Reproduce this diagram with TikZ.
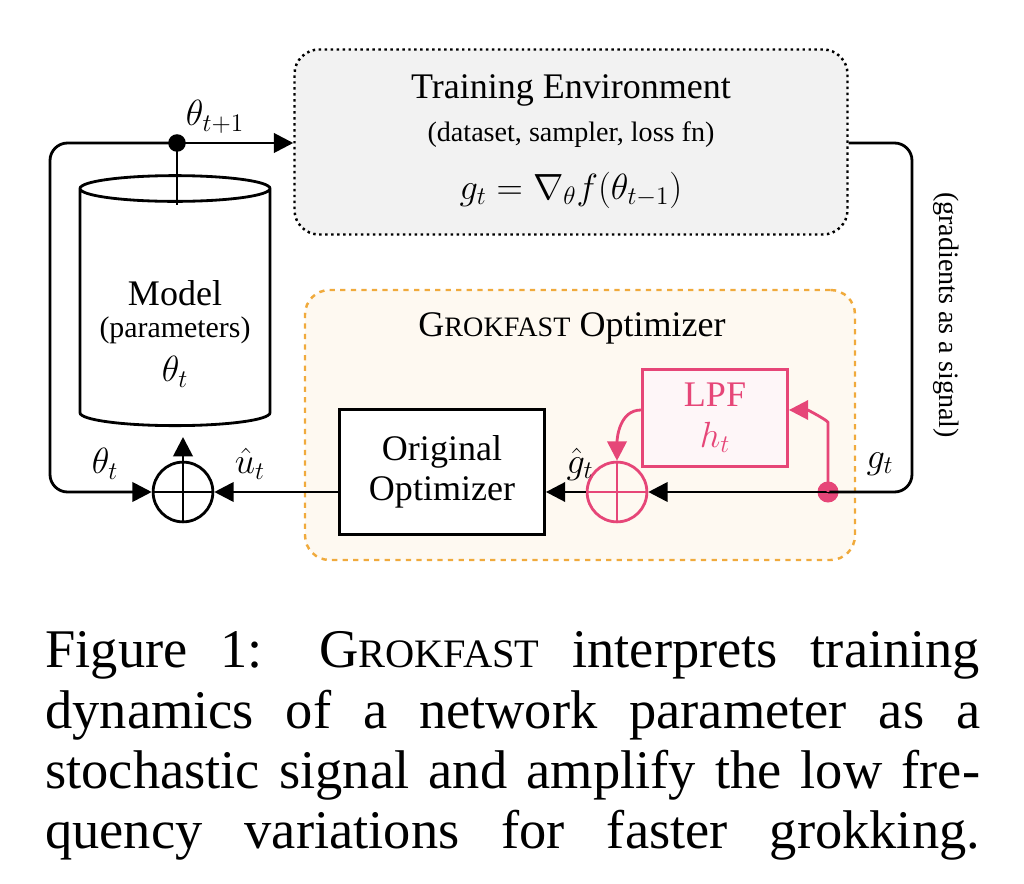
\documentclass[tikz,border=0pt]{standalone}
\usepackage{fontspec}
\setmainfont{Liberation Serif}
\usetikzlibrary{shapes.geometric,arrows.meta}
\definecolor{lpfpink}{RGB}{230,70,120}
\definecolor{grokorange}{RGB}{240,170,60}
\newcommand{\grokname}[1]{G{\fontsize{#1}{#1}\selectfont ROKFAST}}
\begin{document}
\begin{tikzpicture}
    [x=0.02cm, y=-0.02cm,
    every node/.style={font=\fontsize{20.5}{23}\selectfont},
    Wire/.style={line width=1.6pt, rounded corners=10pt},
    Arr/.style={Wire, -{Triangle[length=11pt, width=11pt]}},
    SumNode/.style={circle, draw, line width=1.6pt, minimum size=34pt, inner sep=0pt,
        path picture={\draw[line width=1.6pt] (path picture bounding box.north) -- (path picture bounding box.south)
        (path picture bounding box.west) -- (path picture bounding box.east);}},
    CapLine/.style={anchor=west, text width=18.7cm, align=justify, inner sep=0pt,
        font=\fontsize{31}{34}\selectfont}]
    \useasboundingbox (0,0) rectangle (1024,884);
    % training environment
    \node[draw, dotted, line width=1.4pt, rounded corners=14pt, fill=black!5,
        minimum width=553*0.02cm, minimum height=185*0.02cm] (env) at (571,142) {};
    \node (envT) at (571,90) {Training Environment};
    \node[font=\fontsize{16}{18}\selectfont] (envS) at (571,135) {(dataset, sampler, loss fn)};
    \node (envF) at (571,190) {$g_t = \nabla_\theta f(\theta_{t-1})$};
    % grokfast box
    \node[draw=grokorange, dashed, line width=1.4pt, rounded corners=14pt, fill=grokorange!7,
        minimum width=550*0.02cm, minimum height=270*0.02cm] (grok) at (580,425) {};
    \node (grokT) at (572,328) {\grokname{16} Optimizer};
    % model cylinder
    \node[cylinder, shape border rotate=90, draw, line width=1.6pt, fill=white,
        minimum width=190*0.02cm, minimum height=250*0.02cm, aspect=2.2] (model) at (175,310) {};
    \node (modelA) at (175,293) {Model};
    \node[font=\fontsize{17}{19}\selectfont] (modelB) at (175,330) {(parameters)};
    \node (modelC) at (175,372) {$\theta_t$};
    % blocks
    \node[draw, line width=1.6pt, fill=white, minimum width=205*0.02cm, minimum height=125*0.02cm,
        align=center] (opt) at (442,472) {Original\\Optimizer};
    \node[draw=lpfpink, line width=1.6pt, fill=lpfpink!5, text=lpfpink, minimum width=145*0.02cm,
        minimum height=97*0.02cm, align=center] (lpf) at (715,418) {LPF\\$h_t$};
    \node[SumNode] (sumA) at (183,492) {};
    \node[SumNode, draw=lpfpink, path picture={\draw[lpfpink, line width=1.6pt]
        (path picture bounding box.north) -- (path picture bounding box.south)
        (path picture bounding box.west) -- (path picture bounding box.east);}] (sumB) at (617,492) {};
    % junctions
    \node[circle, fill, inner sep=0pt, minimum size=10pt] (dotT) at (177,143) {};
    \node[circle, fill=lpfpink, inner sep=0pt, minimum size=12pt] (dotG) at (828,492) {};
    \coordinate (modelIn) at (183,437);
    % connectors
    \draw[Wire] (dotT.center) -- (177,205);
    \draw[Arr] (dotT.center) -- (env.west |- dotT);
    \draw[Arr] (dotT.center) -- (50,143) -- (50,492) -- (sumA.west);
    \draw[Wire] (env.east |- dotT) -- (912,143) -- (912,492) -- (dotG.center);
    \draw[Arr] (dotG.center) -- (sumB.east);
    \draw[Arr, lpfpink] (dotG.center) -- (828,440)
        to[out=90, in=0] (lpf.east |- 0,410);
    \draw[Arr, lpfpink] (lpf.west |- 0,410) to[out=180, in=90] (sumB.north);
    \draw[Arr] (sumB.west) -- (opt.east |- sumB);
    \draw[Arr] (opt.west |- sumA) -- (sumA.east);
    \draw[Arr] (sumA.north) -- (modelIn);
    % labels
    \node (lblTh1) at (215,117) {$\theta_{t+1}$};
    \node (lblTh) at (105,464) {$\theta_t$};
    \node (lblU) at (250,464) {$\hat u_t$};
    \node (lblG) at (580,464) {$\hat g_t$};
    \node (lblGt) at (880,464) {$g_t$};
    \node[rotate=-90, font=\fontsize{16}{18}\selectfont] (lblSig) at (946,315) {(gradients as a signal)};
    % caption
    \node[CapLine] (cap1) at (45,655) {\parfillskip=0pt Figure 1: \grokname{23} interprets training\par};
    \node[CapLine] (cap2) at (45,715) {\parfillskip=0pt dynamics of a network parameter as a\par};
    \node[CapLine] (cap3) at (45,775) {\parfillskip=0pt stochastic signal and amplify the low fre-\par};
    \node[CapLine] (cap4) at (45,835) {\parfillskip=0pt quency variations for faster grokking.\par};
\end{tikzpicture}
\end{document}
